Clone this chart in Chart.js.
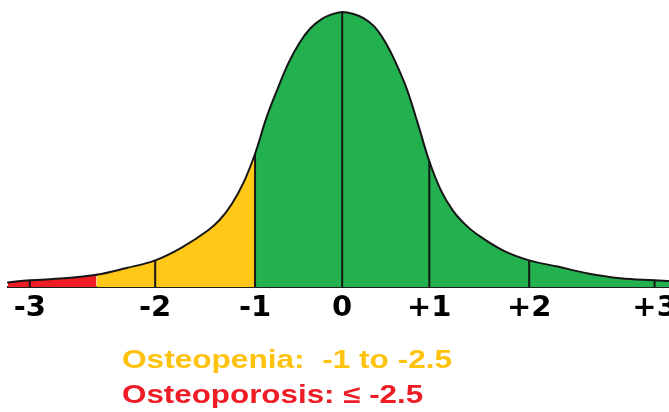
<!DOCTYPE html>
<html>
<head>
<meta charset="utf-8">
<script src="https://cdn.jsdelivr.net/npm/chart.js@4/dist/chart.umd.min.js"></script>
<style>
  html, body { margin: 0; padding: 0; background: #ffffff; }
  #wrap { position: relative; width: 669px; height: 412px; }
</style>
</head>
<body>
<div id="wrap"><canvas id="c" width="669" height="412"></canvas></div>
<script>
// ---- data ----
const zScores = [-3.15, -3, -2.75, -2.5, -2.25, -2, -1.75, -1.5, -1.375, -1.25, -1.125, -1,
                 -0.875, -0.75, -0.625, -0.5, -0.375, -0.25, -0.125, 0,
                 0.125, 0.25, 0.375, 0.5, 0.625, 0.75, 0.875, 1,
                 1.125, 1.25, 1.375, 1.5, 1.75, 2, 2.25, 2.5, 2.75, 3, 3.1];
const density = [0.007, 0.010, 0.013, 0.018, 0.028, 0.039, 0.058, 0.082, 0.098, 0.121, 0.152, 0.194,
                 0.246, 0.288, 0.326, 0.355, 0.376, 0.389, 0.3965, 0.400,
                 0.3975, 0.391, 0.379, 0.357, 0.326, 0.288, 0.237, 0.183,
                 0.141, 0.112, 0.092, 0.077, 0.054, 0.039, 0.030, 0.020, 0.013, 0.010, 0.009];
const tickValues = [-3, -2, -1, 0, 1, 2, 3];
const osteoporosisMax = -2.5;
const osteopeniaMax = -1;
const legendLines = ['Osteopenia:  -1 to -2.5', 'Osteoporosis: \u2264 -2.5'];

// ---- colours / styles ----
const RED = '#EE1C25', YELLOW = '#FFC716', GREEN = '#23B04F', INK = '#161616';
const TEXT_YELLOW = '#FFC20E', TEXT_RED = '#EE1C25';
const STRETCH = 0.025; // the drawing's z axis widens toward the tails

class StretchScale extends Chart.LinearScale {
  _t(v) { return v + STRETCH * v * v * v; }
  getPixelForValue(value) {
    if (value === null || value === undefined || isNaN(value)) return NaN;
    const a = this._t(this.min), b = this._t(this.max);
    return this.getPixelForDecimal((this._t(value) - a) / (b - a));
  }
  getValueForPixel(pixel) {
    const a = this._t(this.min), b = this._t(this.max);
    const target = a + this.getDecimalForPixel(pixel) * (b - a);
    let v = target;
    for (let i = 0; i < 30; i++) {
      const f = this._t(v) - target;
      v -= f / (1 + 3 * STRETCH * v * v);
    }
    return v;
  }
}
StretchScale.id = 'stretch';
StretchScale.defaults = Chart.LinearScale.defaults;
Chart.register(StretchScale);

const points = zScores.map((z, i) => ({ x: z, y: density[i] }));

function zoneColor(z) {
  if (z < osteoporosisMax) return RED;
  if (z < osteopeniaMax) return YELLOW;
  return GREEN;
}

const curveSet = {
  data: points,
  borderColor: INK, borderWidth: 2, backgroundColor: GREEN,
  fill: 'origin', pointRadius: 0, tension: 0.4,
  borderCapStyle: 'round', order: 2, clip: false,
  segment: { backgroundColor: ctx => zoneColor(ctx.p0.parsed.x) }
};

const tickLineSets = tickValues.map(t => {
  const h = density[zScores.indexOf(t)];
  return {
    data: [{ x: t, y: 0 }, { x: t, y: h }],
    borderColor: INK, borderWidth: 2, pointRadius: 0, fill: false, order: 1, clip: false
  };
});

const legendPlugin = {
  id: 'legendText',
  afterDraw(chart) {
    const ctx = chart.ctx;
    const lines = [
      { text: legendLines[0], color: TEXT_YELLOW, x: 122, y: 368, size: 25, sx: 1.264 },
      { text: legendLines[1], color: TEXT_RED, x: 122, y: 403, size: 25, sx: 1.254 }
    ];
    lines.forEach(l => {
      ctx.save();
      ctx.translate(l.x, l.y);
      ctx.scale(l.sx, 1);
      ctx.font = 'bold ' + l.size + 'px "Liberation Sans", Arial, sans-serif';
      ctx.fillStyle = l.color;
      ctx.textBaseline = 'alphabetic';
      ctx.textAlign = 'left';
      ctx.fillText(l.text, 0, 0);
      ctx.restore();
    });
  }
};

new Chart(document.getElementById('c'), {
  type: 'line',
  data: { datasets: [...tickLineSets, curveSet] },
  options: {
    responsive: false,
    animation: false,
    events: [],
    layout: { padding: { left: 8, right: 0, top: 12, bottom: 82 } },
    plugins: { legend: { display: false }, tooltip: { enabled: false }, title: { display: false } },
    scales: {
      x: {
        type: 'stretch',
        min: -3.15, max: 3.1,
        afterBuildTicks: s => { s.ticks = tickValues.map(v => ({ value: v })); },
        afterFit: s => { s.paddingLeft = 0; s.paddingRight = 0; },
        grid: { display: false, drawTicks: false },
        border: { display: true, color: '#1e1e1e', width: 2 },
        ticks: {
          autoSkip: false, maxRotation: 0, padding: 4, color: '#000',
          font: { family: '"DejaVu Sans", sans-serif', weight: 'bold', size: 29 },
          callback: v => (v > 0 ? '+' + v : String(v))
        }
      },
      y: { display: false, min: 0, max: 0.4 }
    }
  },
  plugins: [legendPlugin]
});
</script>
</body>
</html>
